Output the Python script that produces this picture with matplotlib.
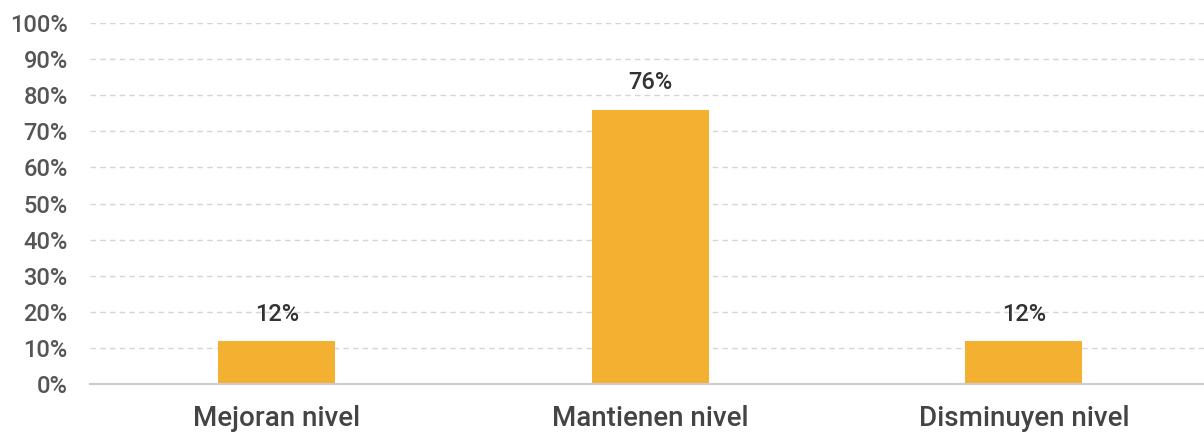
import matplotlib
matplotlib.use("Agg")
from matplotlib import pyplot as plt
from matplotlib.ticker import MultipleLocator, FuncFormatter

# Data
categories = ["Mejoran nivel", "Mantienen nivel", "Disminuyen nivel"]
values = [12, 76, 12]
value_labels = ["12%", "76%", "12%"]

BAR_COLOR = "#F4B030"

plt.rcParams['font.family'] = ['Roboto', 'DejaVu Sans']

fig = plt.figure(figsize=(12.04, 4.33), dpi=100)
ax = fig.add_axes([0.0748, 0.113, 0.9306, 0.834])

x = range(len(categories))
ax.bar(x, values, width=0.313, color=BAR_COLOR, zorder=3)

for xi, v, lab in zip(x, values, value_labels):
    ax.text(xi, v + 4.2, lab, ha="center", va="bottom", fontsize=17,
            color="#333333", fontweight="medium")

ax.set_xlim(-0.5, 2.5)
ax.set_ylim(0, 100)
ax.yaxis.set_major_locator(MultipleLocator(10))
ax.yaxis.set_major_formatter(FuncFormatter(lambda v, p: f"{v:.0f}%"))
ax.set_xticks(list(x))
ax.set_xticklabels(categories, fontsize=20, color="#444444", fontweight="medium")
ax.tick_params(axis="y", labelsize=17, colors="#555555", length=0, pad=16)
for t in ax.get_yticklabels():
    t.set_fontweight("medium")
ax.tick_params(axis="x", length=0, pad=15)

ax.grid(axis="y", linestyle=(0, (4, 3)), color="#d5d5d5", linewidth=1, zorder=0)
for s in ["top", "right", "left"]:
    ax.spines[s].set_visible(False)
ax.spines["bottom"].set_color("#cccccc")
ax.spines["bottom"].set_linewidth(1.5)
ax.spines["bottom"].set_zorder(4)

fig.savefig("out.png", dpi=100)
